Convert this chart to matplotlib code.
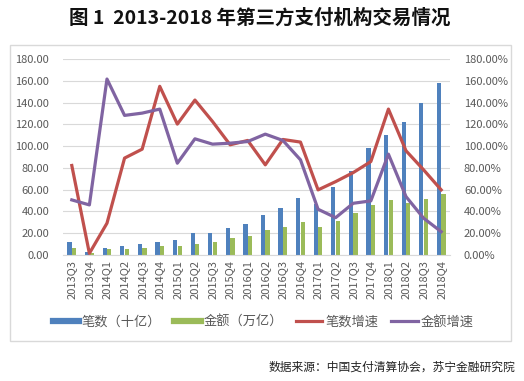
import matplotlib
matplotlib.use("Agg")
import matplotlib.pyplot as plt
import numpy as np
from matplotlib.lines import Line2D
from matplotlib.patches import Rectangle
from matplotlib.ticker import FuncFormatter

plt.rcParams['font.family'] = ['Noto Sans CJK SC', 'DejaVu Sans']

quarters = ['2013Q3', '2013Q4', '2014Q1', '2014Q2', '2014Q3', '2014Q4',
            '2015Q1', '2015Q2', '2015Q3', '2015Q4', '2016Q1', '2016Q2',
            '2016Q3', '2016Q4', '2017Q1', '2017Q2', '2017Q3', '2017Q4',
            '2018Q1', '2018Q2', '2018Q3', '2018Q4']
count = [12.2, 3.0, 6.1, 8.6, 9.8, 12.2, 14.1, 20.5, 20.5, 25.1, 28.8, 37.1,
         43.5, 52.7, 46.9, 62.8, 77.3, 98.7, 109.8, 122.6, 139.2, 157.6]
amount = [6.1, 2.0, 5.2, 5.2, 6.1, 8.0, 8.6, 10.4, 12.2, 15.9, 17.8, 23.3,
          26.1, 30.6, 26.1, 31.6, 38.9, 46.3, 50.9, 48.1, 51.8, 56.4]
count_growth = [82.2, 1.5, 29.2, 89.0, 97.2, 154.9, 120.2, 142.3, 122.6, 101.2,
                105.2, 82.8, 106.1, 103.7, 59.8, 67.4, 75.7, 85.8, 134.0, 95.7,
                78.2, 59.8]
amount_growth = [50.6, 46.0, 161.6, 128.2, 130.3, 134.0, 84.3, 106.7, 101.8,
                 102.7, 104.2, 111.0, 105.2, 87.4, 42.0, 34.3, 47.5, 49.7, 92.6,
                 53.6, 33.8, 21.4]

BLUE, GREEN, RED, PURPLE = '#4F81BD', '#9BBB59', '#C0504D', '#8064A2'
TXT = '#595959'

W, H = 524, 381
fig = plt.figure(figsize=(W / 100, H / 100), dpi=100)

fig.patches.append(Rectangle((10 / W, 1 - 341 / H), 501 / W, 296 / H,
                             transform=fig.transFigure, fill=False,
                             edgecolor='#D9D9D9', lw=1.0))

ax = fig.add_axes([63 / W, 1 - 255 / H, 387 / W, 196 / H])
x = np.arange(len(quarters))
bw = 0.24
ax.bar(x - 0.13, count, bw, color=BLUE, zorder=2)
ax.bar(x + 0.13, amount, bw, color=GREEN, zorder=2)
ax.set_xlim(-0.5, len(quarters) - 0.5)
ax.set_ylim(0, 180)
ax.set_yticks(np.arange(0, 181, 20))
ax.yaxis.set_major_formatter(FuncFormatter(lambda v, p: f'{v:.2f}'))
ax.set_xticks(x)
ax.set_xticklabels(quarters, rotation=90)
ax.grid(axis='y', color='#D9D9D9', lw=0.8, zorder=0)
ax.set_axisbelow(True)
for sp in ['top', 'right', 'left']:
    ax.spines[sp].set_visible(False)
ax.spines['bottom'].set_color('#D9D9D9')
ax.tick_params(axis='both', length=0, colors=TXT, labelsize=8)
ax.tick_params(axis='y', pad=10)

ax2 = ax.twinx()
ax2.plot(x, count_growth, color=RED, lw=2.3, zorder=3)
ax2.plot(x, amount_growth, color=PURPLE, lw=2.3, zorder=3)
ax2.set_ylim(0, 180)
ax2.set_yticks(np.arange(0, 181, 20))
ax2.yaxis.set_major_formatter(FuncFormatter(lambda v, p: f'{v:.2f}%'))
for sp in ax2.spines.values():
    sp.set_visible(False)
ax2.tick_params(axis='y', length=0, colors=TXT, labelsize=8, pad=10)

handles = [Line2D([0], [0], color=BLUE, lw=4.5),
           Line2D([0], [0], color=GREEN, lw=4.5),
           Line2D([0], [0], color=RED, lw=2.3),
           Line2D([0], [0], color=PURPLE, lw=2.3)]
labels = ['笔数（十亿）', '金额（万亿）', '笔数增速', '金额增速']
fig.legend(handles, labels, loc='center', bbox_to_anchor=(263 / W, 1 - 322 / H),
           ncol=4, frameon=False, fontsize=9.5, handlelength=2.0,
           handletextpad=0.2, columnspacing=1.0, labelcolor=TXT)

fig.text(260 / W, 1 - 18 / H, '图 1  2013-2018 年第三方支付机构交易情况',
         ha='center', va='center', fontsize=14, fontweight='bold', color='#111111')
fig.text(515 / W, 1 - 367 / H, '数据来源：中国支付清算协会，苏宁金融研究院',
         ha='right', va='center', fontsize=8.5, color='#222222')

fig.savefig('out.png', dpi=100)
